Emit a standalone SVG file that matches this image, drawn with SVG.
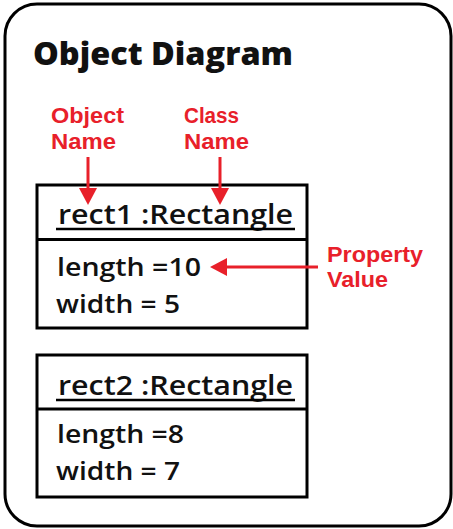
<svg xmlns="http://www.w3.org/2000/svg" width="453" height="529" viewBox="0 0 453 529">
<defs>
<style>
.frame{fill:#fff;stroke:#000;stroke-width:3}
.box{fill:#fff;stroke:#000;stroke-width:3}
.t{font-family:"Open Sans","Liberation Sans",sans-serif;fill:#111}
.title{font-size:31px;font-weight:800}
.head{font-size:27px;font-weight:600}
.attr{font-size:26px;font-weight:600}
.red{font-family:"Liberation Sans",Arial,sans-serif;font-size:22px;font-weight:700;fill:#e8202a}
.ul{stroke:#000;stroke-width:2.5}
.arr{stroke:#e8202a;stroke-width:3;fill:none}
.ah{fill:#e8202a}
</style>
</defs>
<rect x="0" y="0" width="453" height="529" fill="#fff"/>
<rect class="frame" x="5" y="4" width="446" height="522" rx="32" ry="32"/>
<text class="t title" x="33" y="65" textLength="260" lengthAdjust="spacingAndGlyphs">Object Diagram</text>
<g id="labels">
<text class="red" x="51" y="123" textLength="73" lengthAdjust="spacingAndGlyphs">Object</text>
<text class="red" x="51" y="149" textLength="65" lengthAdjust="spacingAndGlyphs">Name</text>
<text class="red" x="184" y="123" textLength="55" lengthAdjust="spacingAndGlyphs">Class</text>
<text class="red" x="184" y="149" textLength="65" lengthAdjust="spacingAndGlyphs">Name</text>
<text class="red" x="327" y="262" textLength="96" lengthAdjust="spacingAndGlyphs">Property</text>
<text class="red" x="327" y="287" textLength="61" lengthAdjust="spacingAndGlyphs">Value</text>
</g>
<g id="rect1">
<rect class="box" x="37" y="185" width="270" height="143"/>
<line class="box" x1="37" y1="239.5" x2="307" y2="239.5"/>
<text class="t head" x="58" y="224" textLength="235" lengthAdjust="spacingAndGlyphs">rect1 :Rectangle</text>
<line class="ul" x1="56" y1="229" x2="295" y2="229"/>
<text class="t attr" x="57" y="276" textLength="144" lengthAdjust="spacingAndGlyphs">length =10</text>
<text class="t attr" x="56" y="313" textLength="124" lengthAdjust="spacingAndGlyphs">width = 5</text>
</g>
<g id="rect2">
<rect class="box" x="37" y="355" width="270" height="142"/>
<line class="box" x1="37" y1="409" x2="307" y2="409"/>
<text class="t head" x="58" y="395" textLength="235" lengthAdjust="spacingAndGlyphs">rect2 :Rectangle</text>
<line class="ul" x1="56" y1="400" x2="295" y2="400"/>
<text class="t attr" x="57" y="443" textLength="127" lengthAdjust="spacingAndGlyphs">length =8</text>
<text class="t attr" x="56" y="480" textLength="124" lengthAdjust="spacingAndGlyphs">width = 7</text>
</g>
<g id="connectors">
<line class="arr" x1="88" y1="157" x2="88" y2="192"/>
<polygon class="ah" points="79,188 97,188 88,205"/>
<line class="arr" x1="220" y1="157" x2="220" y2="192"/>
<polygon class="ah" points="211,188 229,188 220,205"/>
<line class="arr" x1="318" y1="267" x2="222" y2="267"/>
<polygon class="ah" points="227,258 227,276 210,267"/>
</g>
</svg>
